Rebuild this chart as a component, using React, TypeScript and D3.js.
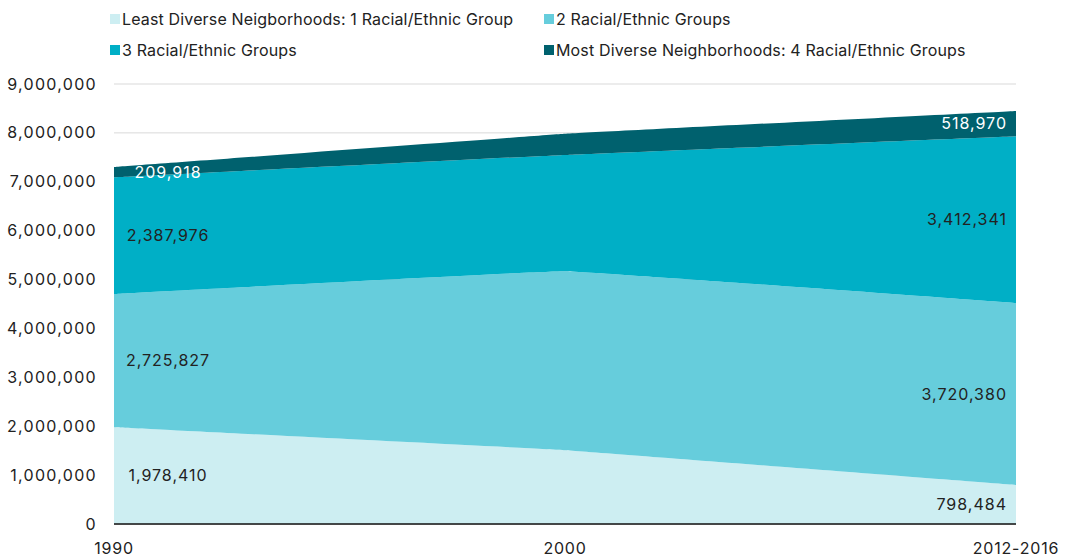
import React from "react";
import * as d3 from "d3";

const years = ["1990", "2000", "2012-2016"];
const seriesNames = [
  "Least Diverse Neigborhoods: 1 Racial/Ethnic Group",
  "2 Racial/Ethnic Groups",
  "3 Racial/Ethnic Groups",
  "Most Diverse Neighborhoods: 4 Racial/Ethnic Groups",
];
const group1 = [1978410, 1510000, 798484];
const group2 = [2725827, 3660000, 3720380];
const group3 = [2387976, 2380000, 3412341];
const group4 = [209918, 430000, 518970];
const yTicks = [0, 1000000, 2000000, 3000000, 4000000, 5000000, 6000000, 7000000, 8000000, 9000000];
const colors = ["#cdeef2", "#66cddc", "#00afc6", "#00616e"];
const labelColors = ["#222", "#222", "#222", "#fff"];

const W = 1065, H = 559;
const M = { left: 114, right: 49, top: 84, bottom: 35 };
const FONT = "Inter, 'Liberation Sans', sans-serif";

export default function App() {
  const series = [group1, group2, group3, group4];
  const rows = years.map((y, i) => ({ year: y, idx: i, g0: group1[i], g1: group2[i], g2: group3[i], g3: group4[i] }));
  const stack = d3.stack<any>().keys(["g0", "g1", "g2", "g3"]);
  const stacked = stack(rows);

  const x = d3.scalePoint<string>().domain(years).range([M.left, W - M.right]);
  const y = d3.scaleLinear().domain([0, 9000000]).range([H - M.bottom, M.top]);
  const area = d3
    .area<any>()
    .x((d) => x(d.data.year)!)
    .y0((d) => y(d[0]))
    .y1((d) => y(d[1]))
    .curve(d3.curveCardinal.tension(0.85));
  const fmt = d3.format(",");

  const legendItems = [
    { i: 0, x: 110, y: 19 },
    { i: 1, x: 544, y: 19 },
    { i: 2, x: 110, y: 50 },
    { i: 3, x: 544, y: 50 },
  ];

  return (
    <svg width={W} height={H} style={{ position: "absolute", left: 0, top: 0, fontFamily: FONT }}>
      {yTicks.map((t) => (
        <g key={t}>
          <line x1={M.left} x2={W - M.right} y1={y(t)} y2={y(t)} stroke="#d9d9d9" strokeWidth={1} />
          <text x={97} y={y(t)} dy="0.35em" textAnchor="end" fontSize={16} letterSpacing={1.3} fill="#222">
            {fmt(t)}
          </text>
        </g>
      ))}
      {stacked.map((s, i) => (
        <path key={i} d={area(s) as string} fill={colors[i]} />
      ))}
      <line x1={M.left} x2={W - M.right} y1={y(0)} y2={y(0)} stroke="#111" strokeWidth={1.5} />
      {years.map((yr) => (
        <text key={yr} x={x(yr)} y={548} dy="0.35em" textAnchor="middle" fontSize={16} letterSpacing={0.8} fill="#222">
          {yr}
        </text>
      ))}
      {stacked.map((s, i) => {
        const first = s[0];
        const last = s[s.length - 1];
        return (
          <g key={"lab" + i}>
            <text x={168} y={y((first[0] + first[1]) / 2)} dy="0.35em" textAnchor="middle" fontSize={16} letterSpacing={1} fill={labelColors[i]}>
              {fmt(series[i][0])}
            </text>
            <text x={1007} y={y((last[0] + last[1]) / 2)} dy="0.35em" textAnchor="end" fontSize={16} letterSpacing={1} fill={labelColors[i]}>
              {fmt(series[i][series[i].length - 1])}
            </text>
          </g>
        );
      })}
      {legendItems.map((l) => (
        <g key={"leg" + l.i}>
          <rect x={l.x} y={l.y - 5} width={10} height={10} fill={colors[l.i]} />
          <text x={l.x + 12} y={l.y} dy="0.35em" fontSize={16} letterSpacing={0.15} fill="#222">
            {seriesNames[l.i]}
          </text>
        </g>
      ))}
    </svg>
  );
}
